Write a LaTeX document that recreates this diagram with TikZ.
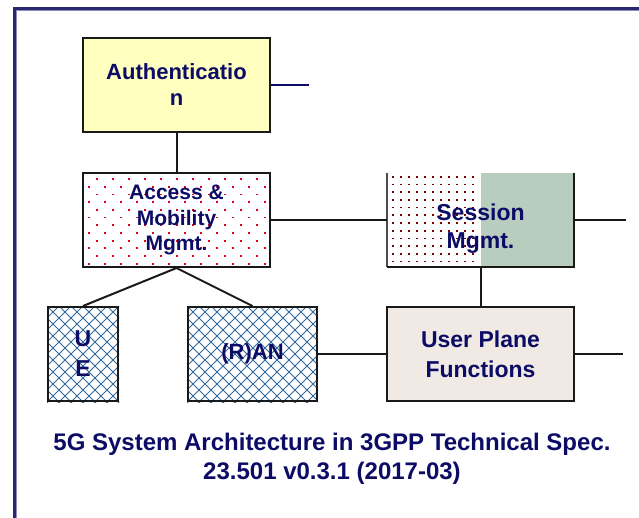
\documentclass[tikz,border=0pt]{standalone}
\usepackage{fontspec}
\setmainfont{Liberation Sans}
\usetikzlibrary{backgrounds}
\definecolor{navy}{RGB}{12,12,102}
\definecolor{framenavy}{RGB}{40,40,110}
\definecolor{framelav}{RGB}{140,140,190}
\definecolor{authfill}{RGB}{255,255,192}
\definecolor{dotred}{RGB}{230,0,30}
\definecolor{dotmaroon}{RGB}{128,0,0}
\definecolor{sage}{RGB}{184,205,189}
\definecolor{upffill}{RGB}{240,233,228}
\definecolor{hatchblue}{RGB}{50,105,155}
\tikzset{
  box/.style={draw=black!90, line width=2pt, inner sep=0pt, text=navy, align=center,
    font=\bfseries\fontsize{22}{26}\selectfont},
  link/.style={line width=2pt, draw=black!90},
  boxtext/.style={text=navy, align=center, font=\bfseries\fontsize{23}{28}\selectfont},
  caption/.style={text=navy, anchor=base, font=\bfseries\fontsize{24}{28}\selectfont},
  hatchline/.style={hatchblue, line width=0.9pt},
}
\begin{document}
\begin{tikzpicture}[x=1pt, y=-1pt]
  \useasboundingbox (0,0) rectangle (639,517);

  % outer frame (runs off to the right and bottom)
  \draw[framenavy, line width=2.2pt] (14.5,540) -- (14.5,8.5) -- (660,8.5);
  \draw[framelav, line width=0.8pt] (16.3,540) -- (16.3,10.3) -- (660,10.3);

  % functions
  \node[box, fill=authfill, minimum width=187pt, minimum height=94pt] (auth) at (176.5,85)
    {Authenticatio\\n};
  \node[box, minimum width=187pt, minimum height=94pt,
        font=\bfseries\fontsize{21}{25.5}\selectfont] (acc) at (176.5,220)
    {Access \&\\Mobility\\Mgmt.};
  \node[box, minimum width=70pt, minimum height=94pt,
        font=\bfseries\fontsize{23}{30}\selectfont] (ue) at (83,354) {U\\E};
  \node[box, minimum width=129pt, minimum height=94pt] (ran) at (252.5,354)
    {(R)AN};
  \node[inner sep=0pt, minimum width=187pt, minimum height=94pt,
        label={[boxtext, yshift=-9pt]center:Session\\Mgmt.}] (sess) at (480.5,220) {};
  \draw[black!70, line width=1.6pt] (sess.north west) -- (sess.south west);
  \draw[black!90, line width=2pt] (sess.south west) -- (sess.south east) -- (sess.north east);
  \node[box, fill=upffill, minimum width=187pt, minimum height=94pt,
        font=\bfseries\fontsize{23}{30}\selectfont] (upf) at (480.5,354)
    {User Plane\\Functions};

  % fills and patterns behind the boxes
  \begin{pgfonlayer}{background}
    \fill[white] (0,0) rectangle (639,517);
    % staggered red dots
    \begin{scope}
      \clip (acc.north west) rectangle (acc.south east);
      \begin{scope}[shift={(acc.north west)}]
        \foreach \r in {0,...,11} {
          \pgfmathsetmacro{\off}{mod(\r,2)==0 ? 14.7 : 6.7}
          \foreach \c in {0,...,11}
            \fill[dotred] (\off+\c*16-0.9, 7+\r*7.7-0.9) rectangle ++(1.8,1.8);
        }
      \end{scope}
    \end{scope}
    % maroon dots left, sage right
    \fill[sage] (sess.north) rectangle (sess.south east);
    \begin{scope}
      \clip (sess.north west) rectangle (sess.south);
      \begin{scope}[shift={(sess.north west)}]
        \foreach \r in {0,...,11}
          \foreach \c in {0,...,10}
            \fill[dotmaroon] (6+\c*8-0.85, 4+\r*7.7-0.85) rectangle ++(1.7,1.7);
      \end{scope}
    \end{scope}
    % diamond crosshatch
    \foreach \b in {ue,ran} {
      \begin{scope}
        \clip (\b.north west) rectangle (\b.south east);
        \begin{scope}[shift={(\b.north west)}]
          \foreach \k in {-12,...,24} {
            \draw[hatchline] (\k*12,0) -- ++(140,140);
            \draw[hatchline] (\k*12,0) -- ++(-140,140);
          }
        \end{scope}
      \end{scope}
    }
  \end{pgfonlayer}

  % free ends of the interface stubs
  \coordinate (authstub) at (309,85);
  \coordinate (sessstub) at (626,220);
  \coordinate (upfstub) at (623,354);

  % connectors
  \draw[link] (auth.south) -- (acc.north);
  \draw[link, draw=navy] (auth.east) -- (authstub);
  \draw[link] (acc.east) -- (sess.west);
  \draw[link] (sess.east) -- (sessstub);
  \draw[link] (acc.south) -- (ue.north);
  \draw[link] (acc.south) -- (ran.north);
  \draw[link] (sess.south) -- (upf.north);
  \draw[link] (ran.east) -- (upf.west);
  \draw[link] (upf.east) -- (upfstub);

  % caption
  \node[caption] (cap1) at (332,450) {5G System Architecture in 3GPP Technical Spec.};
  \node[caption] (cap2) at (332,479) {23.501 v0.3.1 (2017-03)};
\end{tikzpicture}
\end{document}
